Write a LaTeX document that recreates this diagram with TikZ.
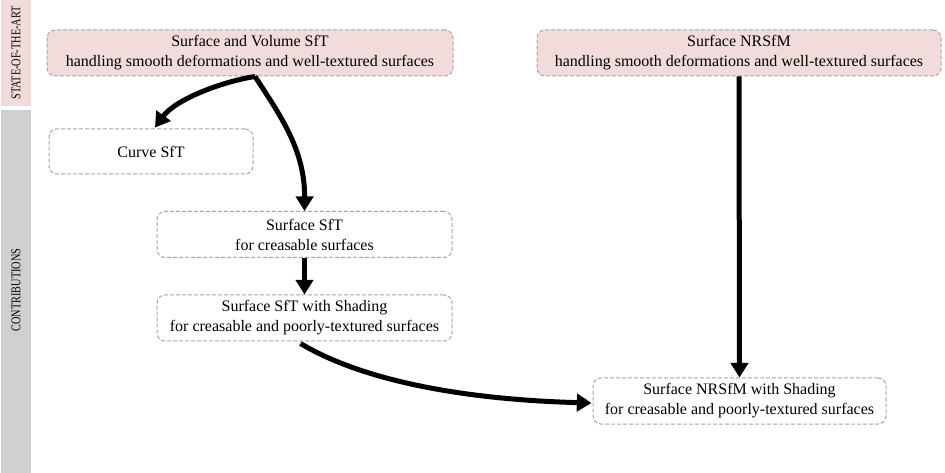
\documentclass[tikz,border=0pt]{standalone}
\usepackage{fontspec}
\setmainfont{Liberation Serif}
\usetikzlibrary{arrows.meta,calc}
\definecolor{sotapink}{HTML}{F2DCDB}
\definecolor{bandgray}{HTML}{D0D0D0}
\definecolor{boxborder}{HTML}{A6A6A6}
\tikzset{every picture/.style={line width=0.75pt}}
\tikzset{
  method/.style={draw=boxborder, dash pattern=on 3pt off 1.5pt, rounded corners=6pt,
    align=center, minimum height=34.5pt, inner sep=0pt, font=\fontsize{12}{15}\selectfont},
  sota/.style={method, fill=sotapink},
  contrib/.style={method, fill=white},
  flow/.style={line width=3.75pt, -{Triangle[length=11pt,width=13pt]}},
  bandlabel/.style={rotate=90, inner sep=0pt, font=\fontsize{10}{12}\selectfont}
}

\begin{document}
\begin{tikzpicture}[x=0.75pt, y=-0.75pt]
    \useasboundingbox (0,0) rectangle (945,473);

    % side bands
    \fill[sotapink] (1,0) rectangle (31,106);
    \fill[bandgray] (1,110) rectangle (31,473);
    \node[bandlabel] (sotalabel) at (16,53) {\scalebox{0.77}[1]{STATE-OF-THE-ART}};
    \node[bandlabel] (contriblabel) at (16,290) {\scalebox{0.77}[1]{CONTRIBUTIONS}};

    % state of the art
    \node[sota, minimum width=304.5pt] (sfta) at (250,53)
        {Surface and Volume SfT\\handling smooth deformations and well-textured surfaces};
    \node[sota, minimum width=303pt] (nrsfm) at (739,53)
        {Surface NRSfM\\handling smooth deformations and well-textured surfaces};

    % contributions
    \node[contrib, minimum width=153pt, minimum height=33.75pt] (curve) at (151,151.5) {Curve SfT};
    \node[contrib, minimum width=221.25pt] (creas) at (304.5,234.5)
        {Surface SfT\\for creasable surfaces};
    \node[contrib, minimum width=221.25pt] (shade) at (304.5,318)
        {Surface SfT with Shading\\for creasable and poorly-textured surfaces};
    \node[contrib, minimum width=219.75pt] (nrshade) at (739.5,401)
        {Surface NRSfM with Shading\\for creasable and poorly-textured surfaces};

    % arrows
    \coordinate (fork) at ($(sfta.south)+(5,0)$);
    \draw[flow] (fork) .. controls (220,82) and (175,100) .. ($(curve.north)+(4,-1)$);
    \draw[flow] (fork) .. controls (280,115) and (305,150) .. (creas.north);
    \draw[flow] (creas.south) -- (shade.north);
    \draw[flow] ($(shade.south)+(-4,2)$) .. controls (370,385) and (480,400) .. ($(nrshade.west)+(-1,2)$);
    \draw[flow] (nrsfm.south) -- (nrshade.north);
\end{tikzpicture}
\end{document}
